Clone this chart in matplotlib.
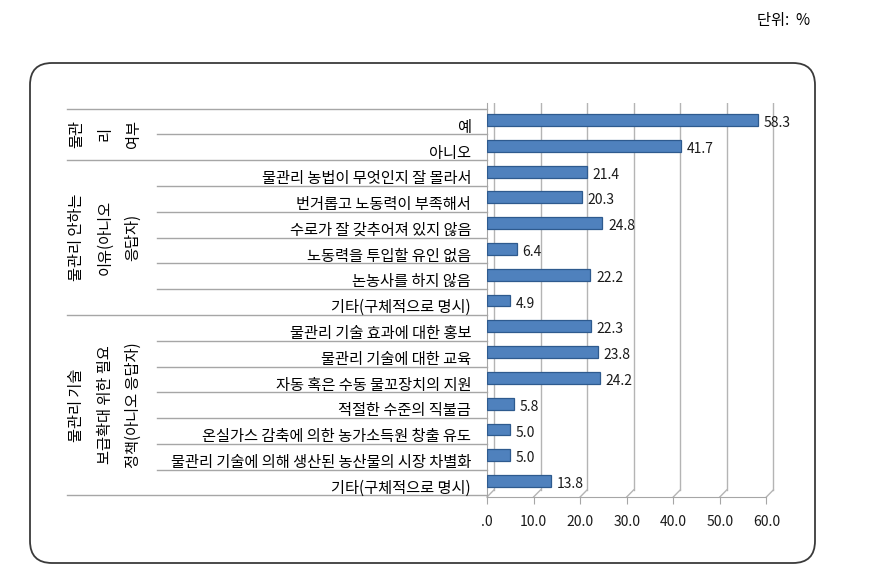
import matplotlib
matplotlib.use("Agg")
import matplotlib.pyplot as plt
import matplotlib.transforms as mtransforms
from matplotlib.patches import FancyBboxPatch

plt.rcParams['font.family'] = ['Noto Sans CJK KR', 'DejaVu Sans']

categories = [
    "예", "아니오",
    "물관리 농법이 무엇인지 잘 몰라서", "번거롭고 노동력이 부족해서", "수로가 잘 갖추어져 있지 않음",
    "노동력을 투입할 유인 없음", "논농사를 하지 않음", "기타(구체적으로 명시)",
    "물관리 기술 효과에 대한 홍보", "물관리 기술에 대한 교육", "자동 혹은 수동 물꼬장치의 지원",
    "적절한 수준의 직불금", "온실가스 감축에 의한 농가소득원 창출 유도",
    "물관리 기술에 의해 생산된 농산물의 시장 차별화", "기타(구체적으로 명시)",
]
values = [58.3, 41.7, 21.4, 20.3, 24.8, 6.4, 22.2, 4.9, 22.3, 23.8, 24.2, 5.8, 5.0, 5.0, 13.8]
groups = ["물관\n리\n여부", "물관리 안하는\n이유(아니오\n응답자)", "물관리 기술\n보급확대 위한 필요\n정책(아니오 응답자)"]
group_sizes = [2, 6, 7]
xticks = [0, 10, 20, 30, 40, 50, 60]
xticklabels = [".0", "10.0", "20.0", "30.0", "40.0", "50.0", "60.0"]

W, H = 884, 586
fig = plt.figure(figsize=(W / 100, H / 100), dpi=100)

ax_left, ax_right, ax_top, ax_bot = 487, 778, 103, 497
ax = fig.add_axes([ax_left / W, 1 - ax_bot / H, (ax_right - ax_left) / W, (ax_bot - ax_top) / H])
ax.set_xlim(0, 62.5)
ax.set_ylim(14.62, -0.66)
ax.patch.set_alpha(0)

# 3D-like gridlines
off = 1.5
floor = 0.018
xtr = ax.get_xaxis_transform()
for t in xticks:
    ax.plot([t + off, t + off], [floor, 1], color='#B4B4B4', lw=1.0, transform=xtr, zorder=0)
    ax.plot([t, t + off], [0, floor], color='#B4B4B4', lw=1.0, transform=xtr, zorder=0, clip_on=False)

ypos = list(range(len(values)))
ax.barh(ypos, values, height=0.46, color='#4F81BD', edgecolor='#2E5A8E', linewidth=0.9, zorder=3)
for y, v in zip(ypos, values):
    ax.text(v + 1.2, y + 0.12, f"{v:.1f}", ha='left', va='center', fontsize=10, color='#1a1a1a', zorder=4)

for s in ['top', 'right']:
    ax.spines[s].set_visible(False)
ax.spines['left'].set_color('#A6A6A6')
ax.spines['bottom'].set_color('#A6A6A6')
ax.spines['bottom'].set_bounds(0, 60)
ax.set_xticks(xticks)
ax.set_xticklabels(xticklabels, fontsize=10, color='#1a1a1a')
ax.tick_params(axis='x', length=5, color='#A6A6A6', pad=8)
ax.set_yticks([])

# category labels and separators
btr = mtransforms.blended_transform_factory(ax.transAxes, ax.transData)
axw = ax_right - ax_left
lab_x = (471 - ax_left) / axw
for y, c in enumerate(categories):
    ax.text(lab_x, y + 0.28, c, ha='right', va='center', fontsize=11, transform=btr, clip_on=False)

group_ends = []
acc = 0
for g in group_sizes:
    acc += g
    group_ends.append(acc - 1)
sep_short = (157 - ax_left) / axw
sep_long = (67 - ax_left) / axw
line_ys = [-1] + list(range(len(values)))
for i in line_ys:
    x0 = sep_long if (i == -1 or i in group_ends) else sep_short
    ax.plot([x0, 0], [i + 0.56, i + 0.56], color='#A6A6A6', lw=1.0, transform=btr, clip_on=False)

gx = (105 - ax_left) / axw
start = 0
for g, n in zip(groups, group_sizes):
    yc = start - 0.45 + n / 2.0
    ax.text(gx, yc, g, rotation=90, ha='center', va='center', multialignment='center',
            fontsize=11, linespacing=1.85, transform=btr, clip_on=False)
    start += n

# outer rounded box
box = FancyBboxPatch((0.30, 0.23), 7.85, 5.00, boxstyle="round,pad=0,rounding_size=0.22",
                     transform=fig.dpi_scale_trans, fill=False, edgecolor='#3a3a3a', linewidth=1.3)
fig.patches.append(box)

fig.text(810 / W, 1 - 20 / H, "단위:  %", ha='right', va='center', fontsize=11)

fig.savefig("out.png", dpi=100)
